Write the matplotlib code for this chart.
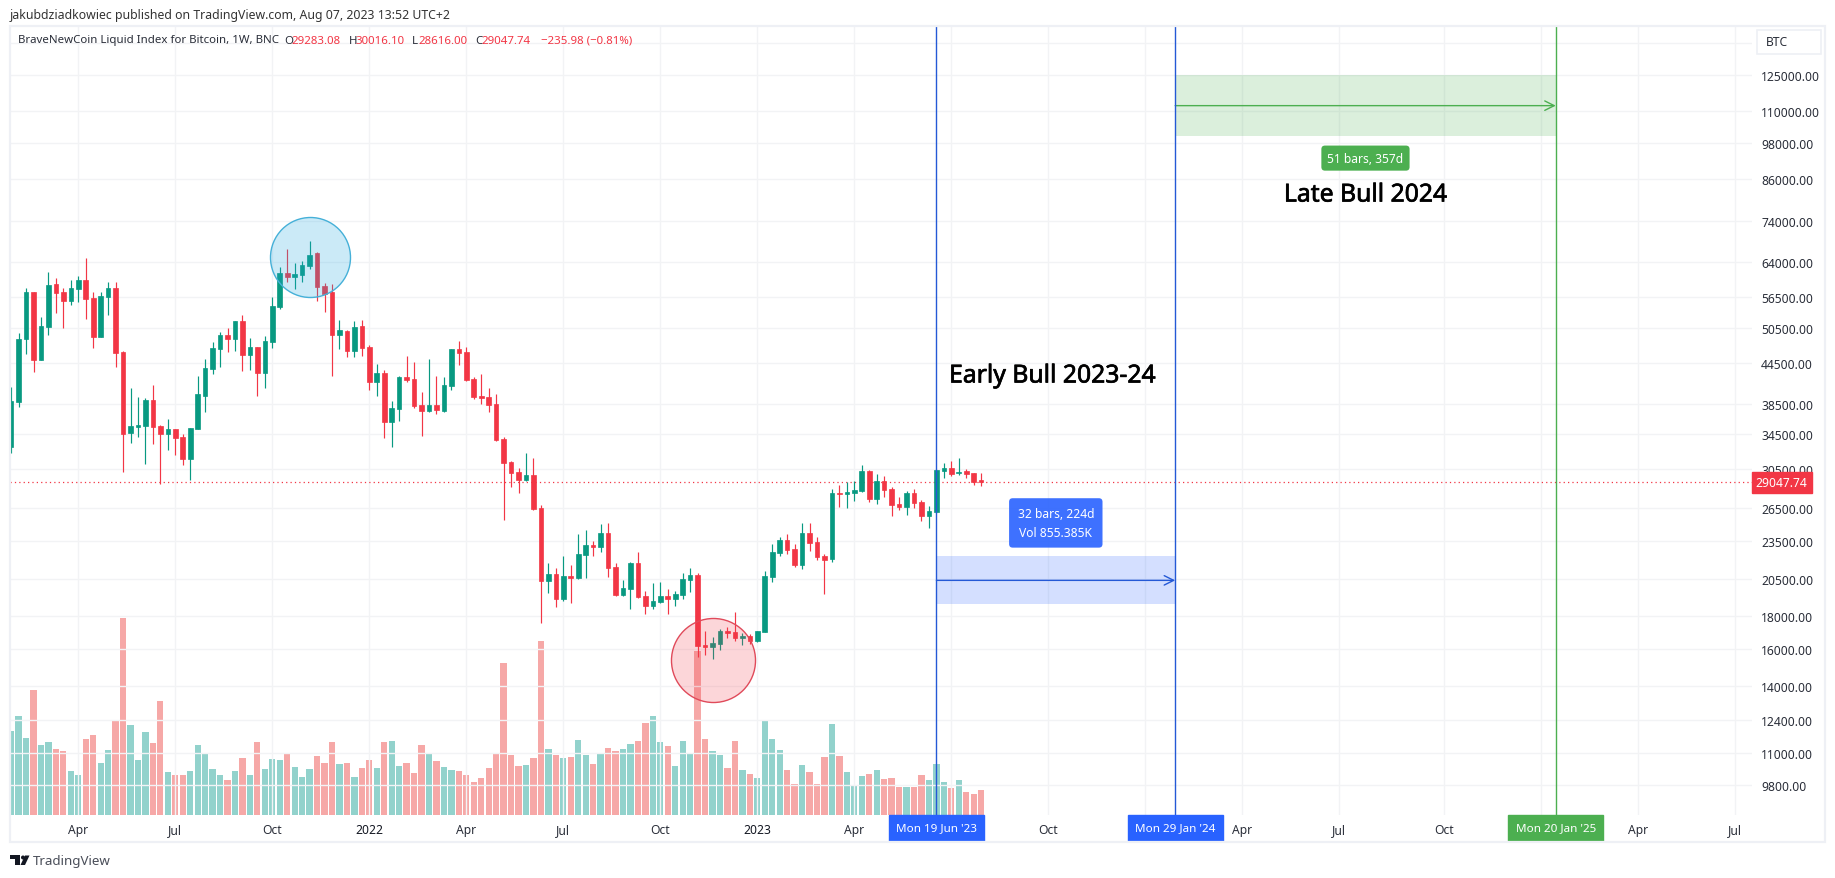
import pandas as pd
import matplotlib
matplotlib.use('Agg')
import matplotlib.pyplot as plt
import matplotlib.patheffects as pe
from matplotlib.patches import Polygon, Rectangle, Circle
from matplotlib.transforms import Affine2D

plt.rcParams['font.family'] = ['Noto Sans', 'DejaVu Sans']

# weekly bars
start_date = '2021-02-01'
opens = [33000, 38770, 48580, 57430, 45060, 50710, 59100, 57430, 55660, 58050,
         59960, 56200, 48940, 56470, 58260, 46300, 34650, 35440, 35570, 39000,
         35530, 34530, 35150, 34160, 31570, 35190, 39600, 43570, 46810, 49230,
         48530, 51760, 45820, 47150, 42960, 48010, 54420, 61480, 60600, 60950,
         63050, 65930, 58680, 57430, 49230, 49950, 46470, 50840, 47150, 41600,
         42960, 36050, 37760, 42350, 42050, 38310, 37490, 38310, 37490, 41000,
         46810, 46300, 42050, 39560, 39420, 38450, 33910, 31230, 30130, 29280,
         29810, 26480, 20380, 20900, 19100, 20750, 20600, 22370, 23190, 23020,
         24210, 21440, 19380, 19800, 21740, 19310, 18640, 18900, 19310, 19100,
         19380, 20460, 20820, 16210, 16090, 16260, 17040, 16980, 16610, 16730,
         16430, 16980, 20680, 22530, 23600, 22860, 21590, 24210, 23440, 22300,
         22050, 27950, 27850, 27950, 28150, 30240, 27350, 29170, 28350, 26870,
         26580, 27950, 27060, 25730, 26110, 30240, 30560, 30020, 30240, 30020,
         29283.08]
highs = [40810, 49540, 58260, 57500, 52500, 61630, 60320, 58260, 59960, 60850,
         64870, 57370, 57430, 59470, 59470, 46470, 40710, 39420, 39280, 41150,
         35660, 36430, 35150, 34530, 35300, 42500, 45170, 48010, 49770, 50480,
         51800, 52890, 48710, 47200, 49060, 56410, 62820, 66990, 63720, 64180,
         68950, 66270, 59310, 59100, 51950, 50120, 51760, 51950, 47500, 44360,
         43420, 38860, 42500, 45660, 44660, 40130, 45170, 42500, 42350, 46900,
         48180, 47150, 42350, 42810, 40710, 39850, 34160, 31300, 30560, 32260,
         31680, 26770, 21740, 21360, 22300, 21590, 24120, 24470, 23520, 24960,
         25090, 21740, 20460, 21800, 22620, 19660, 20240, 20310, 19800, 19660,
         20970, 21360, 20970, 17040, 16670, 17160, 17290, 18240, 16920, 16860,
         17050, 21130, 23270, 23860, 24120, 23270, 25090, 25090, 23860, 22450,
         28350, 28760, 29070, 29170, 30900, 30340, 29910, 29700, 28560, 27550,
         28150, 28350, 27250, 26680, 30400, 31120, 31340, 31680, 30450, 30050,
         30016.10]
lows = [32260, 38070, 45980, 43160, 45000, 49230, 53260, 50480, 54810, 55400,
        52130, 46980, 48900, 52890, 43940, 30130, 33430, 34160, 31010, 33310,
        28860, 32600, 32030, 30900, 29280, 35100, 37360, 42810, 43890, 46300,
        46470, 43270, 43420, 39560, 40710, 46980, 54030, 59520, 58050, 59520,
        62360, 55600, 53450, 42500, 46810, 45500, 45500, 45660, 40420, 39560,
        34030, 32960, 36170, 41600, 37900, 34280, 37360, 37090, 37400, 40420,
        44210, 41800, 39140, 38450, 37360, 33670, 25360, 28560, 27950, 29170,
        26300, 17540, 19520, 18570, 18970, 18830, 20500, 20600, 22300, 22620,
        20680, 19300, 19300, 18440, 19200, 18110, 18440, 18850, 18110, 18640,
        19100, 19590, 15520, 15640, 15410, 15920, 16610, 16430, 16210, 16260,
        16400, 16950, 20310, 22300, 22450, 21440, 21280, 22700, 21970, 19450,
        21820, 26580, 26480, 27160, 28050, 27060, 26870, 27550, 25730, 26300,
        25820, 26480, 25270, 24650, 26050, 29490, 29700, 29810, 29490, 28760,
        28616.00]
closes = [38860, 48530, 57430, 45060, 50840, 58890, 57280, 55660, 58260, 59960,
          56060, 48940, 56610, 58260, 46180, 34570, 35530, 35660, 39000, 35440,
          34570, 35150, 34070, 31570, 35280, 39850, 43730, 46980, 49230, 48530,
          51760, 45820, 47150, 42960, 48180, 54620, 61480, 60600, 61260, 63270,
          65690, 58470, 57020, 49230, 50120, 46470, 50660, 46980, 41600, 42960,
          36050, 37900, 42350, 41900, 38170, 37490, 38310, 37630, 41150, 46810,
          46150, 41900, 39420, 39280, 38310, 33790, 31120, 30020, 29280, 29810,
          26390, 20380, 20900, 19100, 20750, 20600, 22450, 23190, 23020, 24210,
          21360, 19380, 19870, 21740, 19240, 18640, 18970, 19310, 19100, 19450,
          20530, 20820, 16150, 16090, 16320, 17040, 16920, 16610, 16730, 16430,
          17040, 20750, 22620, 23600, 22780, 21590, 24210, 23360, 22210, 21970,
          27950, 27850, 28050, 28250, 30240, 27350, 29170, 28250, 26770, 26580,
          27950, 26970, 25730, 26200, 30340, 30560, 29910, 30130, 29910, 29070,
          29047.74]
# volume in thousands
volumes = [335, 395, 307, 499, 279, 291, 263, 255, 176, 160,
           303, 319, 207, 259, 379, 786, 359, 219, 331, 287,
           455, 172, 160, 160, 176, 279, 243, 184, 160, 140,
           176, 227, 160, 291, 184, 223, 219, 247, 192, 152,
           184, 235, 207, 291, 203, 207, 152, 188, 219, 188,
           291, 295, 196, 207, 168, 279, 247, 215, 192, 180,
           176, 160, 132, 148, 188, 247, 606, 239, 196, 200,
           227, 694, 263, 239, 227, 231, 299, 239, 203, 243,
           267, 255, 263, 283, 295, 367, 395, 291, 275, 196,
           295, 243, 654, 303, 255, 239, 188, 295, 180, 164,
           148, 375, 303, 259, 180, 124, 200, 172, 124, 231,
           363, 235, 172, 116, 156, 164, 180, 144, 148, 112,
           112, 112, 160, 140, 203, 132, 108, 140, 92, 84, 100]

price_ticks = [140000, 125000, 110000, 98000, 86000, 74000, 64000, 56500, 50500, 44500, 38500,
               34500, 30500, 26500, 23500, 20500, 18000, 16000, 14000, 12400, 11000, 9800]
price_labels = [''] + ['%.2f' % p for p in price_ticks[1:]]
tick_dates = ['2021-04-05', '2021-07-05', '2021-10-04', '2022-01-03', '2022-04-04', '2022-07-04',
              '2022-10-03', '2023-01-02', '2023-04-03', '2023-07-03', '2023-10-02', '2024-01-01',
              '2024-04-01', '2024-07-01', '2024-10-07', '2025-01-06', '2025-04-07', '2025-07-07']
tick_labels = ['Apr', 'Jul', 'Oct', '2022', 'Apr', 'Jul', 'Oct', '2023', 'Apr', '', 'Oct', '',
               'Apr', 'Jul', 'Oct', '', 'Apr', 'Jul']

# date range tools
range_dates = ['2023-06-19', '2024-01-29', '2025-01-20']
range_labels = ["Mon 19 Jun '23", "Mon 29 Jan '24", "Mon 20 Jan '25"]
range_colors = ['#2962ff', '#2962ff', '#4caf50']
line_colors = ['#2459d6', '#2459d6', '#4caf50']
early_low, early_mid, early_high = 18770, 20430, 22320
late_low, late_mid, late_high = 100500, 112000, 125000

W, H = 1835, 879
GREEN, RED = '#089981', '#f23645'
GRID = '#f2f3f5'
TEXT = '#2a2e39'

def to_bar(date):
    return (pd.Timestamp(date) - pd.Timestamp(start_date)).days // 7

bars = list(range(len(closes)))
up = [c >= o for o, c in zip(opens, closes)]
candle_colors = [GREEN if u else RED for u in up]
volume_colors = ['#26a69a' if u else '#ef5350' for u in up]
body_bottom = [min(o, c) for o, c in zip(opens, closes)]
body_height = [abs(c - o) for o, c in zip(opens, closes)]

fig = plt.figure(figsize=(W / 100, H / 100), dpi=100)
px = Affine2D().scale(1 / W, -1 / H).translate(0, 1) + fig.transFigure

ax_vol = fig.add_axes([10 / W, (H - 816) / H, 1742 / W, 789 / H])
ax = fig.add_axes([10 / W, (H - 816) / H, 1742 / W, 789 / H], sharex=ax_vol)
ax.patch.set_visible(False)

# volume pane sits at the bottom, its scale is not shown
ax_vol.bar(bars, volumes, width=0.84, color=volume_colors, alpha=0.5, linewidth=0)
ax_vol.set_ylim(0, 3148)
ax_vol.axis('off')

ax.set_yscale('log')
ax.set_ylim(8811, 149000)
ax.set_xlim(-0.15, 233.3)
ax.minorticks_off()
ax.yaxis.tick_right()
ax.set_yticks(price_ticks)
ax.set_yticklabels(price_labels)
ax.set_xticks([to_bar(d) for d in tick_dates])
ax.set_xticklabels(tick_labels)
ax.tick_params(axis='both', length=0, labelsize=8.7, labelcolor=TEXT)
ax.tick_params(axis='y', pad=6.5)
ax.tick_params(axis='x', pad=6)
for lab in ax.get_xticklabels():
    if lab.get_text() in ('2022', '2023'):
        lab.set_color('#131722')
ax.grid(True, color=GRID, linewidth=1)
ax.set_axisbelow(True)
for s in ax.spines.values():
    s.set_visible(False)

# candles
ax.vlines(bars, lows, highs, colors=candle_colors, linewidth=0.85, zorder=3)
ax.bar(bars, body_height, bottom=body_bottom, width=0.62, color=candle_colors,
       edgecolor=candle_colors, linewidth=0.5, zorder=3)

# last price line
ax.axhline(closes[-1], color=RED, linestyle=(0, (1, 2.5)), linewidth=0.9, zorder=2)
ax.text(1.0022, closes[-1], '%.2f' % closes[-1], transform=ax.get_yaxis_transform(), color='white',
        fontsize=8.7, va='center', ha='left', zorder=6,
        bbox=dict(boxstyle='square,pad=0.33', fc=RED, ec=RED))

# highlight circles
ax.plot([40.1], [65040], 'o', markersize=57.6, markerfacecolor='#22a7e0', markeredgecolor='none',
        alpha=0.23, zorder=4)
ax.plot([40.1], [65040], 'o', markersize=57.6, markerfacecolor='none', markeredgecolor='#45b0d8',
        markeredgewidth=1, zorder=4, clip_on=False)
ax.plot([94.1], [15360], 'o', markersize=60.5, markerfacecolor='#f23645', markeredgecolor='none',
        alpha=0.2, zorder=4)
ax.plot([94.1], [15360], 'o', markersize=60.5, markerfacecolor='none', markeredgecolor='#e04a5a',
        markeredgewidth=1, zorder=4)

# date ranges
b0, b1, b2 = [to_bar(d) for d in range_dates]
ax.fill_between([b0, b1], early_low, early_high, color='#2962ff', alpha=0.2, linewidth=0, zorder=1)
ax.fill_between([b1, b2], late_low, late_high, color='#4caf50', alpha=0.2, linewidth=0, zorder=1)
ax.annotate('', xy=(b1, early_mid), xytext=(b0, early_mid),
            arrowprops=dict(arrowstyle='->', color=line_colors[0], lw=1, shrinkA=0, shrinkB=0, mutation_scale=17), zorder=5)
ax.annotate('', xy=(b2, late_mid), xytext=(b1, late_mid),
            arrowprops=dict(arrowstyle='->', color=line_colors[2], lw=1, shrinkA=0, shrinkB=0, mutation_scale=17), zorder=5)
for d, label, col, lcol in zip(range_dates, range_labels, range_colors, line_colors):
    ax.axvline(to_bar(d), color=lcol, linewidth=1.0, zorder=5)
    ax.text(to_bar(d), -0.0165, label, transform=ax.get_xaxis_transform(), color='white', fontsize=8.4,
            ha='center', va='center', zorder=7, clip_on=False, fontweight='medium',
            bbox=dict(boxstyle='square,pad=0.62', fc=col, ec=col))

ax.text((b0 + b1) / 2, 25100, '32 bars, 224d\nVol 855.385K', color='white', fontsize=8.7, ha='center',
        va='center', linespacing=1.65, zorder=7,
        bbox=dict(boxstyle='round,pad=0.7,rounding_size=0.3', fc='#2962ff', ec='none', alpha=0.9))
ax.text((b1 + b2) / 2, 92800, '51 bars, 357d', color='white', fontsize=8.7, ha='center', va='center', zorder=7,
        bbox=dict(boxstyle='round,pad=0.5,rounding_size=0.3', fc='#4caf50', ec='none'))
# big notes look a little heavier than regular weight in the original
heavier = [pe.withStroke(linewidth=0.5, foreground='black')]
ax.text(139.55, 42500, 'Early Bull 2023-24', color='black', fontsize=17.8, ha='center', va='center',
        zorder=7, path_effects=heavier)
ax.text(181.5, 81300, 'Late Bull 2024', color='black', fontsize=17.8, ha='center', va='center',
        zorder=7, path_effects=heavier)

# chart frame
fig.add_artist(Rectangle((10, 27), 1815, 816, transform=px, fill=False, ec='#eef0f5', lw=1.6))

# symbol box
fig.add_artist(Rectangle((1757, 31), 64, 24, transform=px, fc='white', ec='#eef0f5', lw=1.2))
fig.text(1766 / W, 1 - 43 / H, 'BTC', fontsize=8.7, color=TEXT, va='center')

# header and legend
fig.text(9.5 / W, 1 - 15 / H, 'jakubdziadkowiec published on TradingView.com, Aug 07, 2023 13:52 UTC+2',
         fontsize=8.84, color='#333333', va='center')
fig.text(18 / W, 1 - 41 / H, 'BraveNewCoin Liquid Index for Bitcoin, 1W, BNC', fontsize=8.25, color=TEXT, va='center')
for x, label, col in [(284, 'O', TEXT), (291, '29283.08', RED), (349, 'H', TEXT), (355, '30016.10', RED),
                      (412, 'L', TEXT), (418, '28616.00', RED), (475, 'C', TEXT), (481, '29047.74', RED),
                      (541, '\u2212235.98 (\u22120.81%)', RED)]:
    fig.text(x / W, 1 - 41 / H, label, fontsize=8.25, color=col, va='center')

# TradingView logo and name
fig.add_artist(Polygon([(10, 856.5), (20, 856.5), (20, 866), (15, 866), (15, 860.5), (10, 860.5)],
                       closed=True, transform=px, fc='#131722', ec='none'))
fig.add_artist(Circle((23, 858.5), 2, transform=px, fc='#131722', ec='none'))
fig.add_artist(Polygon([(25, 856.5), (29.5, 856.5), (25, 866), (20.5, 866)], closed=True, transform=px,
                       fc='#131722', ec='none'))
fig.text(33 / W, 1 - 861.5 / H, 'TradingView', fontsize=9.6, color='#4a4e59', va='center')

fig.savefig('out.png', dpi=100, facecolor='white')
